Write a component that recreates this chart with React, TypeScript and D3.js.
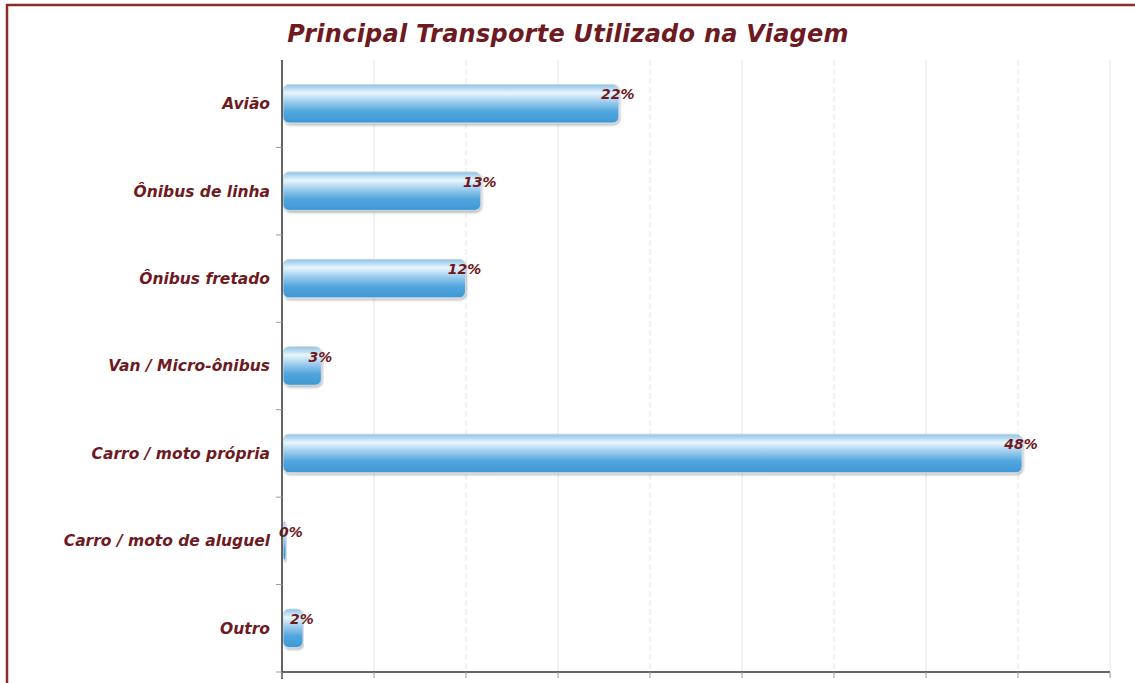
import React from 'react';
import * as d3 from 'd3';

const categories = ['Avião', 'Ônibus de linha', 'Ônibus fretado', 'Van / Micro-ônibus', 'Carro / moto própria', 'Carro / moto de aluguel', 'Outro'];
// bar lengths (percent)
const values = [21.9, 12.9, 11.9, 2.5, 48.2, 0.15, 1.3];
const valueLabels = ['22%', '13%', '12%', '3%', '48%', '0%', '2%'];
const xTicks = [0, 6, 12, 18, 24, 30, 36, 42, 48, 54];

const W = 1135;
const H = 683;
const RED = '#6e1a22';
const FONT = '"DejaVu Sans", Verdana, sans-serif';

export default function App() {
  const margin = { top: 60, right: 25, bottom: 11, left: 282 };
  const x = d3.scaleLinear().domain([0, 54]).range([margin.left, W - margin.right]);
  const y = d3.scaleBand().domain(categories).range([margin.top, H - margin.bottom]).paddingInner(0.56).paddingOuter(0.28);
  const band = d3.scaleBand().domain(categories).range([margin.top, H - margin.bottom]);
  const bottom = H - margin.bottom;

  return (
    <div style={{ position: 'fixed', left: 0, top: 0, width: W, height: H, background: '#fff' }}>
      <svg width={W} height={H} style={{ display: 'block' }}>
        <defs>
          <linearGradient id="barGrad" x1="0" y1="0" x2="0" y2="1">
            <stop offset="0%" stopColor="#8cc3e6" />
            <stop offset="22%" stopColor="#eaf5fc" />
            <stop offset="45%" stopColor="#9ccdee" />
            <stop offset="70%" stopColor="#52a6dd" />
            <stop offset="100%" stopColor="#3d97d4" />
          </linearGradient>
          <filter id="shadow" x="-5%" y="-20%" width="110%" height="150%">
            <feDropShadow dx="1" dy="2" stdDeviation="1.2" floodColor="#000" floodOpacity="0.25" />
          </filter>
        </defs>

        {/* outer frame */}
        <rect x={7} y={5} width={W} height={H} fill="none" stroke="#8c2a2c" strokeWidth={2.5} />

        {/* title */}
        <text x={568} y={42} textAnchor="middle" fill={RED} fontFamily={FONT} fontSize={24} fontWeight="bold" fontStyle="italic" letterSpacing={0.25}>
          Principal Transporte Utilizado na Viagem
        </text>

        {/* vertical grid lines */}
        {xTicks.slice(1).map(t => (
          <line key={t} x1={x(t)} x2={x(t)} y1={margin.top} y2={bottom} stroke="#e6e6e6" strokeWidth={1} strokeDasharray={t % 12 === 0 ? '6,3' : undefined} />
        ))}

        {/* bars */}
        {categories.map((c, i) => {
          const w = Math.max(x(values[i]) - x(0), 3);
          const lx = Math.max(x(values[i]), x(0) + 9);
          return (
            <g key={c}>
              <rect x={x(0) + 1} y={y(c)} width={w} height={y.bandwidth()} rx={6} ry={6}
                fill="url(#barGrad)" stroke="#c9d8e3" strokeWidth={1} filter="url(#shadow)" />
              <text x={lx} y={(y(c) ?? 0) + 15} textAnchor="middle"
                fill={RED} fontFamily={FONT} fontSize={14} fontWeight="bold" fontStyle="italic">
                {valueLabels[i]}
              </text>
            </g>
          );
        })}

        {/* y axis */}
        <line x1={x(0)} x2={x(0)} y1={margin.top} y2={bottom + 7} stroke="#333" strokeWidth={1.5} />
        {categories.map(c => (
          <line key={c} x1={x(0) - 6} x2={x(0)} y1={(band(c) ?? 0) + band.bandwidth()} y2={(band(c) ?? 0) + band.bandwidth()} stroke="#999" />
        ))}
        {categories.map((c, i) => (
          <text key={c} x={270} y={(y(c) ?? 0) + y.bandwidth() / 2} dy="0.35em" textAnchor="end"
            fill={RED} fontFamily={FONT} fontSize={15.5} fontWeight="bold" fontStyle="italic">
            {categories[i]}
          </text>
        ))}

        {/* x axis */}
        <line x1={x(0)} x2={x(54)} y1={bottom} y2={bottom} stroke="#333" strokeWidth={1.5} />
        {xTicks.map(t => (
          <line key={t} x1={x(t)} x2={x(t)} y1={bottom} y2={bottom + 6} stroke="#999" />
        ))}
      </svg>
    </div>
  );
}
